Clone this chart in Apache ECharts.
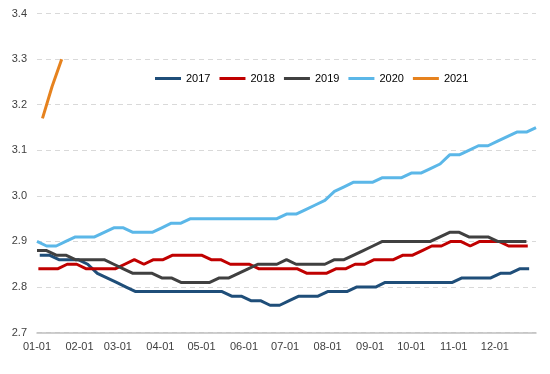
<!DOCTYPE html>
<html>
<head>
<meta charset="utf-8">
<script src="https://cdn.jsdelivr.net/npm/echarts@6/dist/echarts.min.js"></script>
<style>html,body{margin:0;padding:0;background:#fff}#c{width:550px;height:374px}</style>
</head>
<body>
<div id="c"></div>
<script>
// Weekly observations; each year's first observation day-of-year offset
const seriesNames = ['2017', '2018', '2019', '2020', '2021'];
const startDays = [2, 1, 0, 0, 4];
const v2017 = [2.87,2.87,2.86,2.86,2.86,2.85,2.83,2.82,2.81,2.80,2.79,2.79,2.79,2.79,2.79,2.79,2.79,2.79,2.79,2.79,2.78,2.78,2.77,2.77,2.76,2.76,2.77,2.78,2.78,2.78,2.79,2.79,2.79,2.80,2.80,2.80,2.81,2.81,2.81,2.81,2.81,2.81,2.81,2.81,2.82,2.82,2.82,2.82,2.83,2.83,2.84,2.84];
const v2018 = [2.84,2.84,2.84,2.85,2.85,2.84,2.84,2.84,2.84,2.85,2.86,2.85,2.86,2.86,2.87,2.87,2.87,2.87,2.86,2.86,2.85,2.85,2.85,2.84,2.84,2.84,2.84,2.84,2.83,2.83,2.83,2.84,2.84,2.85,2.85,2.86,2.86,2.86,2.87,2.87,2.88,2.89,2.89,2.90,2.90,2.89,2.90,2.90,2.90,2.89,2.89,2.89];
const v2019 = [2.88,2.88,2.87,2.87,2.86,2.86,2.86,2.86,2.85,2.84,2.83,2.83,2.83,2.82,2.82,2.81,2.81,2.81,2.81,2.82,2.82,2.83,2.84,2.85,2.85,2.85,2.86,2.85,2.85,2.85,2.85,2.86,2.86,2.87,2.88,2.89,2.90,2.90,2.90,2.90,2.90,2.90,2.91,2.92,2.92,2.91,2.91,2.91,2.90,2.90,2.90,2.90];
const v2020 = [2.90,2.89,2.89,2.90,2.91,2.91,2.91,2.92,2.93,2.93,2.92,2.92,2.92,2.93,2.94,2.94,2.95,2.95,2.95,2.95,2.95,2.95,2.95,2.95,2.95,2.95,2.96,2.96,2.97,2.98,2.99,3.01,3.02,3.03,3.03,3.03,3.04,3.04,3.04,3.05,3.05,3.06,3.07,3.09,3.09,3.10,3.11,3.11,3.12,3.13,3.14,3.14,3.15];
const v2021 = [3.17,3.24,3.30];
const seriesValues = [v2017, v2018, v2019, v2020, v2021];
const colors = ['#1F4E79', '#C00000', '#404040', '#5BB7E8', '#E6821E'];
const yTicks = [2.7, 2.8, 2.9, 3.0, 3.1, 3.2, 3.3, 3.4];

// categories: every day of a (non-leap) year, "MM-DD"
const categories = [];
const monthDays = [31,28,31,30,31,30,31,31,30,31,30,31];
for (let m = 0; m < 12; m++) {
  for (let d = 1; d <= monthDays[m]; d++) {
    categories.push(String(m + 1).padStart(2, '0') + '-' + String(d).padStart(2, '0'));
  }
}

const series = seriesNames.map((name, k) => ({
  name: name,
  type: 'line',
  showSymbol: false,
  symbol: 'none',
  smooth: false,
  color: colors[k],
  lineStyle: { width: 3, color: colors[k] },
  data: seriesValues[k].map((v, i) => [categories[startDays[k] + 7 * i], v])
}));

const chart = echarts.init(document.getElementById('c'), null, { renderer: 'canvas' });
chart.setOption({
  animation: false,
  backgroundColor: '#ffffff',
  textStyle: { fontFamily: 'Liberation Sans' },
  grid: { left: 37, right: 14, top: 13.6, bottom: 41.4, containLabel: false },
  legend: {
    data: seriesNames,
    left: 150,
    top: 68,
    icon: 'rect',
    itemWidth: 26,
    itemHeight: 3,
    itemGap: 9,
    textStyle: { fontSize: 11, color: '#000', fontFamily: 'Liberation Sans' }
  },
  xAxis: {
    type: 'category',
    data: categories,
    boundaryGap: false,
    axisLine: { lineStyle: { color: '#BFBFBF', width: 1.5 } },
    axisTick: { show: false },
    axisLabel: {
      interval: (idx, val) => val.endsWith('-01'),
      color: '#404040',
      fontSize: 11,
      margin: 9,
      fontFamily: 'Liberation Sans'
    },
    splitLine: { show: false }
  },
  yAxis: {
    type: 'value',
    min: yTicks[0],
    max: yTicks[yTicks.length - 1],
    interval: 0.1,
    axisLine: { show: false },
    axisTick: { show: false },
    axisLabel: {
      formatter: v => v.toFixed(1),
      color: '#404040',
      fontSize: 11,
      margin: 10,
      fontFamily: 'Liberation Sans'
    },
    splitLine: { lineStyle: { color: '#D9D9D9', type: [5, 4], width: 1 } }
  },
  series: series
});
</script>
</body>
</html>
